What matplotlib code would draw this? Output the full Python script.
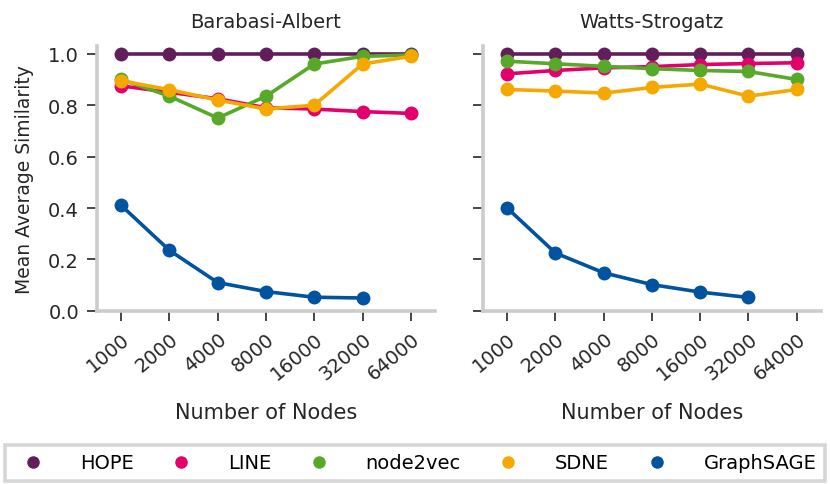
import matplotlib.pyplot as plt
from matplotlib.lines import Line2D

nodes = ["1000", "2000", "4000", "8000", "16000", "32000", "64000"]
methods = ["HOPE", "LINE", "node2vec", "SDNE", "GraphSAGE"]
colors = ["#621e5a", "#e4006c", "#58a92a", "#f5a900", "#00539f"]

ba = {
    "HOPE": [1.0, 1.0, 1.0, 1.0, 1.0, 1.0, 1.0],
    "LINE": [0.875, 0.85, 0.825, 0.79, 0.785, 0.775, 0.768],
    "node2vec": [0.90, 0.835, 0.75, 0.835, 0.96, 0.99, 0.995],
    "SDNE": [0.895, 0.86, 0.82, 0.785, 0.80, 0.96, 0.99],
    "GraphSAGE": [0.41, 0.235, 0.11, 0.075, 0.053, 0.05],
}
ws = {
    "HOPE": [1.0, 1.0, 1.0, 1.0, 1.0, 1.0, 1.0],
    "LINE": [0.922, 0.935, 0.945, 0.95, 0.958, 0.962, 0.965],
    "node2vec": [0.971, 0.961, 0.951, 0.942, 0.935, 0.931, 0.90],
    "SDNE": [0.861, 0.855, 0.847, 0.869, 0.882, 0.835, 0.861],
    "GraphSAGE": [0.40, 0.225, 0.148, 0.102, 0.073, 0.052],
}

plt.rcParams["font.family"] = "DejaVu Sans"
fig = plt.figure(figsize=(8.3, 4.85), dpi=100)
ax1 = fig.add_axes([0.117, 0.357, 0.407, 0.546])
ax2 = fig.add_axes([0.582, 0.357, 0.407, 0.546], sharey=ax1)

txt = "#262626"
for ax, data, title in [(ax1, ba, "Barabasi-Albert"), (ax2, ws, "Watts-Strogatz")]:
    for m, c in zip(methods, colors):
        vals = data[m]
        ax.plot(range(len(vals)), vals, color=c, lw=2.6, marker="o", ms=9)
    ax.set_xticks(range(len(nodes)))
    ax.set_xticklabels(nodes, rotation=40, ha="right", rotation_mode="anchor", fontsize=14, color=txt)
    ax.set_xlim(-0.5, 6.5)
    ax.set_ylim(0, 1.03)
    ax.set_title(title, fontsize=14, color=txt, pad=14)
    ax.set_xlabel("Number of Nodes", fontsize=15, color=txt, labelpad=14)
    for s in ["top", "right"]:
        ax.spines[s].set_visible(False)
    for s in ["left", "bottom"]:
        ax.spines[s].set_color("#cccccc")
        ax.spines[s].set_linewidth(2.6)
    ax.tick_params(axis="both", length=7, width=1.2, color=txt, labelsize=14, labelcolor=txt, pad=6)

ax1.set_yticks([0.0, 0.2, 0.4, 0.6, 0.8, 1.0])
ax1.set_ylabel("Mean Average Similarity", fontsize=13.5, color=txt, labelpad=10)
plt.setp(ax2.get_yticklabels(), visible=False)

handles = [Line2D([], [], color=c, marker="o", ls="none", ms=8) for c in colors]
leg = fig.legend(handles, methods, loc="lower left", bbox_to_anchor=(0.006, 0.006, 0.988, 0.08),
                 ncol=5, mode="expand", fontsize=14, frameon=True, fancybox=False,
                 borderaxespad=0, handletextpad=1.4, borderpad=0.45)
leg.get_frame().set_edgecolor("#cccccc")
leg.get_frame().set_linewidth(2.6)

fig.savefig("out.png", dpi=100)
